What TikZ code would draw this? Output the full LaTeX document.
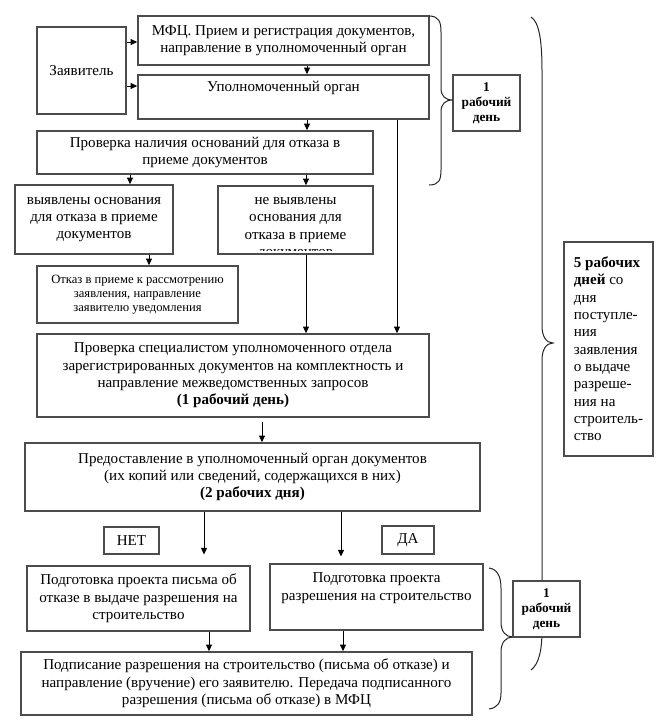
\documentclass[tikz,border=0pt]{standalone}
\usepackage{fontspec}
\setmainfont{Liberation Serif}
\usetikzlibrary{arrows.meta}
\newcommand\mainfs{\fontsize{11.3}{13}\selectfont}
\newcommand\smallfs{\fontsize{9.45}{10.6}\selectfont}
\newcommand\dayfs{\fontsize{10}{11.25}\selectfont\bfseries}
\tikzset{
  box/.style={draw=black!70, line width=1.2pt, inner sep=0pt, align=center, font=\mainfs},
  txt/.style={inner sep=0pt, align=center, font=\mainfs},
  arr/.style={draw=black, line width=0.75pt, -{Triangle[length=5pt,width=4.5pt]}},
  brace/.style={draw=black!85, line width=0.75pt},
}
\newcommand\mybox[7][]{\node[box,minimum width={(#5-#3)*0.75pt},minimum height={(#6-#4)*0.75pt},#1] (#2) at ({(#3+#5)/2},{(#4+#6)/2}) {#7};}
\begin{document}
\begin{tikzpicture}[x=0.75pt,y=-0.75pt]
\useasboundingbox (0,0) rectangle (664,726);
% boxes
\mybox{zay}{37}{27}{126}{114}{Заявитель}
\mybox{mfc}{138}{16}{429}{65}{МФЦ. Прием и регистрация документов,\\направление в уполномоченный орган}
\mybox{upl}{138}{75}{429}{119}{}
\node[txt] (upltext) at (283.5,88) {Уполномоченный орган};
\mybox{prov}{37}{131}{373}{174}{Проверка наличия оснований для отказа в\\приеме документов}
\mybox{vyy}{15}{185}{173}{254}{выявлены основания\\для отказа в приеме\\документов}
\mybox{nvy}{218}{186}{373}{254}{}
\begin{scope}
  \clip (218,186) rectangle (373,250);
  \node[txt] (nvytext) at (295.5,228.5) {не выявлены\\основания для\\отказа в приеме\\документов};
\end{scope}
\mybox[font=\smallfs]{otk}{37}{266}{238}{323}{Отказ в приеме к рассмотрению\\заявления, направление\\заявителю уведомления}
\mybox{spec}{37}{334}{429}{417}{Проверка специалистом уполномоченного отдела\\зарегистрированных документов на комплектность и\\направление межведомственных запросов\\\textbf{(1 рабочий день)}}
\mybox{pred}{25}{443}{480}{511}{Предоставление в уполномоченный орган документов\\(их копий или сведений, содержащихся в них)\\\textbf{(2 рабочих дня)}}
\mybox{net}{104}{527}{159}{554}{НЕТ}
\mybox{da}{382}{526}{434}{554}{ДА}
\mybox{pg1}{27}{566}{250}{631}{Подготовка проекта письма об\\отказе в выдаче разрешения на\\строительство}
\mybox{pg2}{270}{564}{483}{630}{}
\node[txt] (pg2text) at (376.5,588) {Подготовка проекта\\разрешения на строительство};
\mybox{podp}{21}{652}{472}{715}{Подписание разрешения на строительство (письма об отказе) и\\направление (вручение) его заявителю. Передача подписанного\\разрешения (письма об отказе) в МФЦ}
\mybox[font=\dayfs]{d1}{453}{75}{520}{131}{1\\рабочий\\день}
\mybox[align=left]{d2}{564}{242}{653}{456}{\textbf{5 рабочих}\\\textbf{дней} со\\дня\\поступле-\\ния\\заявления\\о выдаче\\разреше-\\ния на\\строитель-\\ство}
% braces
\draw[brace] (429,16) .. controls (439,16) and (441,22) .. (441,32) -- (441,88)
  .. controls (441,96) and (445,100) .. (453,100)
  .. controls (445,100) and (441,104) .. (441,112) -- (441,170)
  .. controls (441,180) and (439,185) .. (429,185);
\draw[brace] (531,17) .. controls (539,22) and (542,40) .. (542,70) -- (542,326)
  .. controls (542,336) and (546,343) .. (553,343)
  .. controls (546,343) and (542,350) .. (542,360) -- (542,630)
  .. controls (542,650) and (539,664) .. (531,670);
\draw[brace] (489,568) .. controls (497,569) and (501,576) .. (501,588) -- (501,622)
  .. controls (501,632) and (506,637) .. (513,637)
  .. controls (506,637) and (501,642) .. (501,652) -- (501,693)
  .. controls (501,703) and (497,708) .. (489,709);
\mybox[font=\dayfs,fill=white]{d3}{513}{581}{580}{637}{1\\рабочий\\день}
% helper coordinates
\coordinate (ya) at (0,42);
\coordinate (yb) at (0,86);
\coordinate (x307) at (307,0);
\coordinate (x397) at (397,0);
\coordinate (x130) at (130,0);
\coordinate (x306) at (306,0);
\coordinate (x149) at (149,0);
\coordinate (x262) at (262,0);
\coordinate (x204) at (204,0);
\coordinate (x341) at (341,0);
\coordinate (x209) at (209,0);
\coordinate (x343) at (343,0);
% connectors
\draw[arr] (zay.east |- ya) -- (mfc.west |- ya);
\draw[arr] (zay.east |- yb) -- (upl.west |- yb);
\draw[arr] (mfc.south -| x307) -- (upl.north -| x307);
\draw[arr] (upl.south -| x307) -- (prov.north -| x307);
\draw[arr] (upl.south -| x397) -- (spec.north -| x397);
\draw[arr] (prov.south -| x130) -- (vyy.north -| x130);
\draw[arr] (prov.south -| x306) -- (nvy.north -| x306);
\draw[arr] (vyy.south -| x149) -- (otk.north -| x149);
\draw[arr] (nvy.south -| x306) -- (spec.north -| x306);
\draw[arr, shorten <=3.5pt] (spec.south -| x262) -- (pred.north -| x262);
\draw[arr, shorten >=8pt] (pred.south -| x204) -- (pg1.north -| x204);
\draw[arr, shorten >=5pt] (pred.south -| x341) -- (pg2.north -| x341);
\draw[arr] (pg1.south -| x209) -- (podp.north -| x209);
\draw[arr] (pg2.south -| x343) -- (podp.north -| x343);
\end{tikzpicture}
\end{document}
